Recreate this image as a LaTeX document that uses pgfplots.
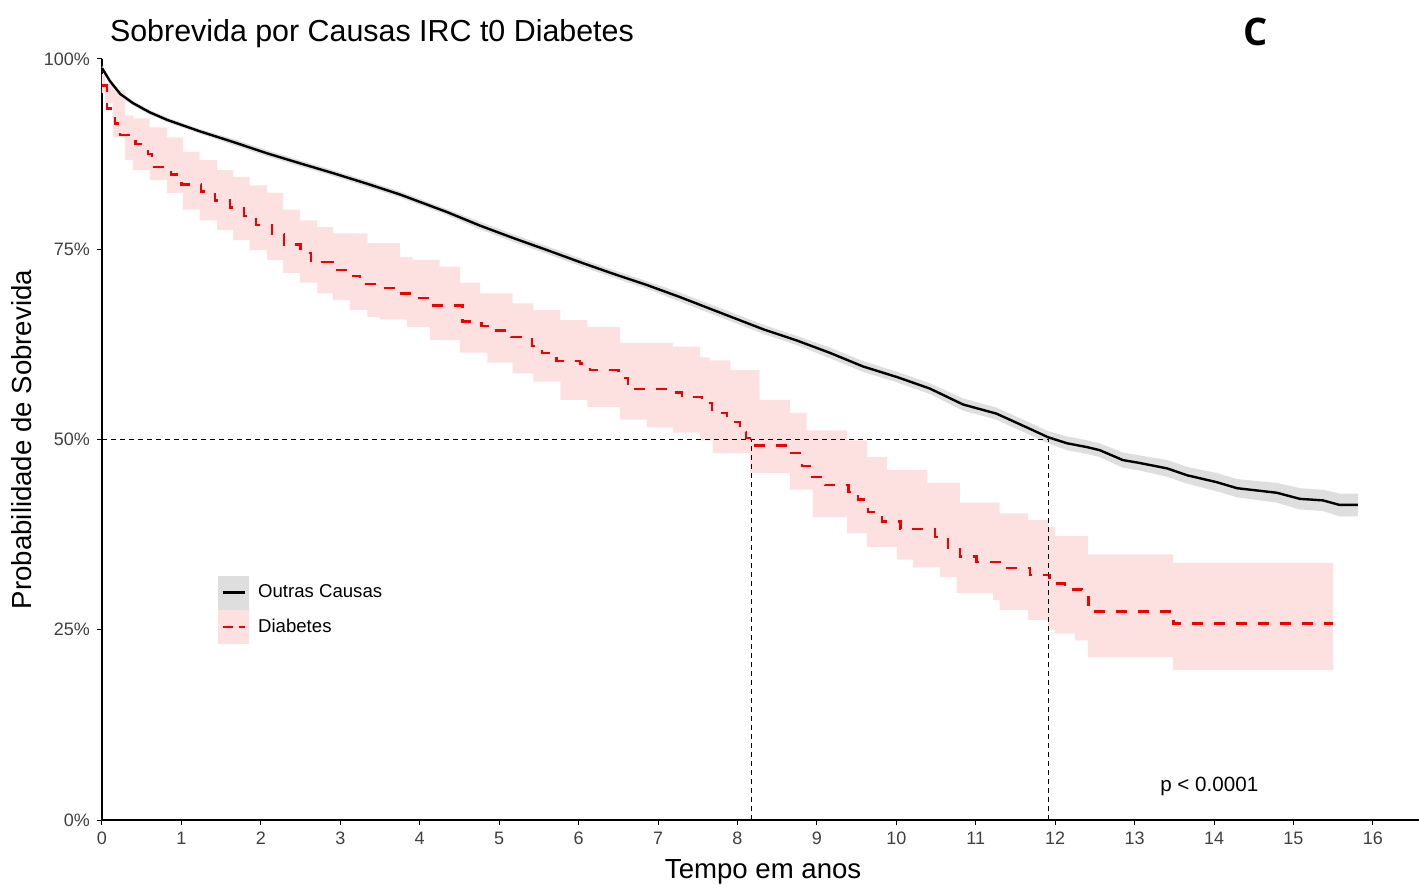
\documentclass[border=0pt]{standalone}
\usepackage{fontspec}
\setmainfont{Liberation Sans}
\newfontfamily\labelfont{Open Sans}
\usepackage{pgfplots}
\usepackage{pgfplotstable}
\pgfplotsset{compat=1.18}
\usepgfplotslibrary{fillbetween}

\definecolor{bandgrey}{RGB}{222,222,222}
\definecolor{bandpink}{RGB}{253,224,224}
\definecolor{kmred}{RGB}{240,0,0}

% Outras Causas: time, survival, lower, upper
\pgfplotstableread{
x y lo hi
0 98.8 98.5 99.1
0.03 98.3 98.0 98.6
0.1 97.1 96.8 97.4
0.23 95.4 95.1 95.7
0.39 94.2 93.9 94.5
0.6 93.0 92.7 93.3
0.82 92.0 91.7 92.3
1.23 90.5 90.2 90.8
1.65 89.1 88.7 89.5
2.08 87.6 87.2 88.0
2.49 86.3 85.9 86.7
2.91 85.0 84.6 85.4
3.34 83.6 83.2 84.0
3.75 82.2 81.8 82.6
4.34 79.9 79.5 80.3
4.76 78.1 77.6 78.6
5.17 76.5 76.0 77.0
5.6 74.9 74.4 75.4
6.02 73.3 72.8 73.8
6.43 71.8 71.3 72.3
6.86 70.3 69.8 70.8
7.28 68.7 68.1 69.3
7.7 67.0 66.4 67.6
8.32 64.5 63.9 65.1
8.75 63.0 62.4 63.6
9.16 61.4 60.7 62.1
9.58 59.6 58.9 60.3
10.01 58.2 57.5 58.9
10.42 56.7 56.0 57.4
10.84 54.6 53.8 55.4
11.26 53.4 52.6 54.2
11.64 51.6 50.8 52.4
11.91 50.3 49.5 51.1
12.15 49.5 48.6 50.4
12.4 49.0 48.1 49.9
12.56 48.6 47.7 49.5
12.85 47.3 46.3 48.3
13.07 46.9 45.9 47.9
13.41 46.2 45.1 47.3
13.66 45.3 44.2 46.4
14.03 44.4 43.2 45.6
14.29 43.6 42.4 44.8
14.79 43.0 41.7 44.3
15.08 42.2 40.8 43.6
15.37 42.0 40.6 43.4
15.58 41.4 39.9 42.9
15.81 41.4 39.9 42.9
}\outras

% Diabetes: survival steps
\pgfplotstableread{
x y
0 96.5
0.06 93.5
0.16 91.5
0.23 90.0
0.42 88.8
0.58 87.5
0.63 85.8
0.87 84.8
1.0 83.5
1.25 82.6
1.42 81.4
1.61 80.5
1.79 79.4
1.94 78.2
2.14 77.0
2.29 75.6
2.5 74.5
2.63 73.3
2.9 72.3
3.1 71.5
3.25 70.4
3.44 69.9
3.69 69.2
3.93 68.6
4.13 67.6
4.54 65.5
4.78 64.9
4.93 64.3
5.15 63.5
5.41 62.3
5.54 61.4
5.72 60.3
6.02 60.0
6.14 59.1
6.5 58.1
6.62 56.6
7.12 56.2
7.3 55.6
7.55 54.8
7.68 53.5
7.87 52.3
8.03 51.0
8.11 50.2
8.18 49.2
8.64 48.2
8.81 46.5
8.91 45.1
9.1 44.0
9.4 43.1
9.52 42.1
9.64 40.5
9.82 39.2
10.05 38.2
10.49 37.2
10.65 35.6
10.8 34.6
11.01 33.9
11.32 33.1
11.68 32.2
11.93 31.1
12.12 30.3
12.34 29.3
12.42 27.4
13.49 25.8
15.5 25.8
}\diab

% Diabetes: upper confidence limit
\pgfplotstableread{
x y
0 98.0
0.04 96.8
0.14 95.9
0.29 92.6
0.39 92.2
0.6 91.0
0.82 89.7
1.02 87.8
1.23 86.7
1.45 85.4
1.65 84.5
1.86 83.4
2.08 82.4
2.28 80.2
2.49 78.8
2.71 77.9
2.91 77.1
3.34 75.8
3.75 74.0
3.91 73.6
4.25 72.7
4.51 70.6
4.76 69.2
5.17 67.9
5.43 67.0
5.77 65.7
6.11 64.8
6.52 62.7
7.19 62.2
7.53 60.8
7.65 60.4
7.91 59.1
8.28 55.2
8.66 53.5
8.87 51.2
9.38 49.9
9.63 47.7
9.88 46.0
10.39 44.3
10.8 41.7
11.3 40.3
11.66 39.4
11.91 38.5
12.0 37.3
12.41 34.9
13.48 33.8
15.5 33.8
}\diabhi

% Diabetes: lower confidence limit
\pgfplotstableread{
x y
0 95.5
0.04 94.2
0.14 89.7
0.29 86.7
0.39 85.4
0.6 84.1
0.82 82.4
1.02 80.2
1.23 78.8
1.45 77.5
1.65 76.2
1.86 74.9
2.08 73.6
2.28 71.9
2.49 70.6
2.71 69.2
2.91 68.3
3.12 67.0
3.34 66.1
3.5 65.8
3.84 64.8
4.13 63.1
4.51 61.4
4.85 60.1
5.17 58.7
5.43 57.6
5.77 55.2
6.11 54.3
6.52 52.6
6.86 51.6
7.19 50.9
7.53 49.9
7.69 48.2
8.16 45.6
8.66 43.4
8.95 39.8
9.38 37.7
9.63 35.9
10.01 34.2
10.21 33.2
10.55 31.9
10.76 29.8
11.22 28.9
11.3 27.6
11.66 26.3
11.91 25.0
12.0 24.5
12.25 23.6
12.41 21.4
13.48 19.7
15.5 19.7
}\diablo

\begin{document}
\begin{tikzpicture}
\begin{axis}[
  scale only axis, width=658.5pt, height=380.5pt,
  xmin=0, xmax=16.58, ymin=0, ymax=100,
  clip=false,
  axis x line*=bottom, axis y line*=left,
  axis line style={line width=0.6pt, black},
  xtick={0,1,...,16}, ytick={0,25,50,75,100},
  yticklabels={0\%,25\%,50\%,75\%,100\%},
  tick align=outside, major tick length=2.5pt,
  tick style={line width=0.5pt, black},
  ticklabel style={font=\fontsize{9}{10}\selectfont, text=black!75},
  /pgf/number format/assume math mode=true,
  xlabel={Tempo em anos}, ylabel={Probabilidade de Sobrevida},
  label style={font=\fontsize{13.8}{15}\selectfont},
  xlabel style={at={(axis description cs:0.502,0)}, anchor=base, yshift=-29pt},
  ylabel style={at={(axis description cs:-0.0607,0.5)}, anchor=center},
  title={Sobrevida por Causas IRC t0 Diabetes},
  title style={at={(0,1)}, anchor=base west, xshift=0.5pt, yshift=2.5pt, font=\fontsize{15.2}{17}\selectfont},
  legend style={at={(axis description cs:0.0835,0.327)}, anchor=north west, draw=none, fill=none,
    font=\fontsize{9.3}{11}\selectfont, row sep=0.5pt},
  legend cell align=left,
]
% confidence bands
\addplot[draw=none, name path=oh, forget plot] table[x=x, y=hi] {\outras};
\addplot[draw=none, name path=ol, forget plot] table[x=x, y=lo] {\outras};
\addplot[bandgrey, forget plot] fill between[of=oh and ol];
\addplot[draw=none, const plot, name path=dh, forget plot] table[x=x, y=y] {\diabhi};
\addplot[draw=none, const plot, name path=dl, forget plot] table[x=x, y=y] {\diablo};
\addplot[bandpink, forget plot] fill between[of=dh and dl];
% curves
\addplot[black, line width=1.2pt, forget plot] table[x=x, y=y] {\outras};
\addplot[kmred, line width=1.2pt, const plot, dash pattern=on 5.5pt off 5.5pt, forget plot] table[x=x, y=y] {\diab};
% median lines
\addplot[black, line width=0.55pt, dash pattern=on 2.5pt off 2pt, forget plot] coordinates {(0,50) (11.92,50)};
\addplot[black, line width=0.55pt, dash pattern=on 2.5pt off 2pt, forget plot] coordinates {(8.176,0) (8.176,50)};
\addplot[black, line width=0.55pt, dash pattern=on 2.5pt off 2pt, forget plot] coordinates {(11.92,0) (11.92,50)};
% legend
\addlegendimage{legend image code/.code={\fill[bandgrey] (0pt,-8.25pt) rectangle (15pt,8.25pt); \draw[black, line width=1.2pt] (2pt,0pt) -- (13pt,0pt); \path (17.5pt,0pt);}}
\addlegendentry{Outras Causas}
\addlegendimage{legend image code/.code={\fill[bandpink] (0pt,-8.25pt) rectangle (15pt,8.25pt); \draw[kmred, line width=1.2pt, dash pattern=on 5pt off 3pt] (2pt,0pt) -- (13pt,0pt); \path (17.5pt,0pt);}}
\addlegendentry{Diabetes}
% annotations
\node[anchor=base, font=\fontsize{10.3}{12}\selectfont] at (axis cs:13.94,3.7) {p < 0.0001};
\node[anchor=base west, inner sep=0pt, font=\labelfont\bfseries\fontsize{19}{20}\selectfont] at (axis cs:14.36,101.8) {C};
\end{axis}
\pgfresetboundingbox
\useasboundingbox (-51pt,-32pt) rectangle (658.5pt,410pt);
\end{tikzpicture}
\end{document}
